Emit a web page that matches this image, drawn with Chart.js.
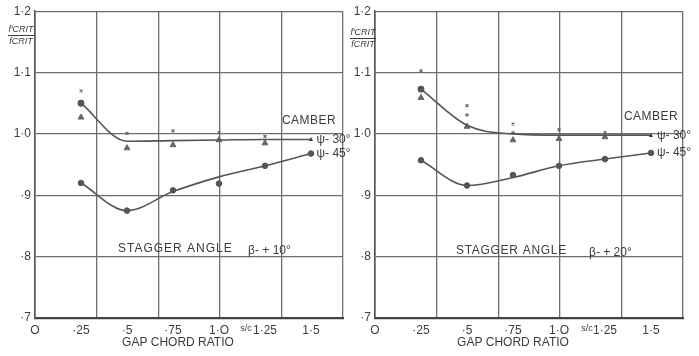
<!DOCTYPE html>
<html><head><meta charset="utf-8">
<script src="https://cdn.jsdelivr.net/npm/chart.js@4"></script>
<style>
html,body{margin:0;padding:0;background:#fff;}
#wrap{position:relative;width:699px;height:356px;overflow:hidden;background:#fff;}
.panel{position:absolute;top:0;height:356px;}
#p1{left:0;width:350px;}
#p2{left:350px;width:349px;}
</style></head><body>
<div id="wrap">
<div class="panel" id="p1"><canvas id="c1" width="350" height="356"></canvas></div>
<div class="panel" id="p2"><canvas id="c2" width="349" height="356"></canvas></div>
</div>
<script>
// ---- data ----
const gapRatio = [0.25, 0.5, 0.75, 1.0, 1.25, 1.5];
const xTickValues = [0, 0.25, 0.5, 0.75, 1.0, 1.25, 1.5];
const xTickLabels = ['O', '·25', '·5', '·75', '1·O', '1·25', '1·5'];
const yTickValues = [0.7, 0.8, 0.9, 1.0, 1.1, 1.2];
const yTickLabels = ['·7', '·8', '·9', '1·0', '1·1', '1·2'];

// Stagger angle beta = +10 deg
const b10Psi30Curve = [1.050, 0.988, 0.989, 0.990, 0.991, 0.991];
const b10Psi30Tri   = [1.027, 0.977, 0.982, 0.990, 0.985, null];
const b10Psi30Mark  = [1.070, 1.001, 1.005, 1.002, 0.996, null];
const b10Psi45Pts   = [0.920, 0.875, 0.908, 0.919, 0.948, 0.968];
const b10Psi45Curve = [0.920, 0.875, 0.906, 0.930, 0.948, 0.968];

// Stagger angle beta = +20 deg
const b20Psi30Curve = [1.073, 1.014, 1.000, 0.998, 0.998, 0.998];
const b20Psi30Tri   = [1.059, 1.012, 0.990, 0.992, 0.995, null];
const b20Psi30Mark  = [1.103, 1.046, 1.016, 1.007, 1.002, null];
const b20Psi30Plus  = [null, 1.031, 1.002, null, null, null];
const b20Psi45Pts   = [0.957, 0.916, 0.933, 0.948, 0.959, 0.969];
const b20Psi45Curve = [0.957, 0.916, 0.929, 0.948, 0.959, 0.969];

const INK = '#3c3c3c';
const LINE = '#555';
const GRID = '#6e6e6e';
const FONT = 'Liberation Sans';

function pts(arr) { return gapRatio.map((x, i) => ({x: x, y: arr[i]})).filter(p => p.y !== null); }

const textPlugin = {
  id: 'texts',
  afterDraw(chart, args, opts) {
    const ctx = chart.ctx, xs = chart.scales.x, ys = chart.scales.y;
    ctx.save();
    ctx.fillStyle = INK;
    ctx.textBaseline = 'middle';
    for (const it of opts.items) {
      const px = xs.getPixelForValue(it.x);
      const py = it.py !== undefined ? it.py : ys.getPixelForValue(it.y);
      ctx.font = (it.style || '') + ' ' + it.size + 'px "' + FONT + '"';
      ctx.letterSpacing = it.ls || '0px';
      ctx.textAlign = it.align || 'left';
      ctx.fillText(it.t, px, py);
    }
    ctx.letterSpacing = '0px';
    // y fraction label
    const f = opts.frac;
    ctx.textAlign = 'center';
    ctx.font = 'italic 9px "' + FONT + '"';
    ctx.fillText('f′CRIT', f.cx, f.cy - 6);
    ctx.fillText('fCRIT', f.cx, f.cy + 6);
    ctx.strokeStyle = INK; ctx.lineWidth = 1;
    ctx.beginPath(); ctx.moveTo(f.cx - 13, f.cy + 0.5); ctx.lineTo(f.cx + 13, f.cy + 0.5); ctx.stroke();
    ctx.restore();
  }
};

function makeChart(id, ds, yAxisWidth, padRight, items, frac) {
  const datasets = [
    {data: pts(ds.c30), showLine: true, pointRadius: [2.6, 0, 0, 0, 0, 0], pointStyle: 'circle', backgroundColor: LINE, borderColor: LINE, borderWidth: 1.6, cubicInterpolationMode: 'monotone', fill: false},
    {data: pts(ds.c45), showLine: true, pointRadius: 0, borderColor: LINE, borderWidth: 1.6, cubicInterpolationMode: 'monotone', fill: false},
    {data: pts(ds.tri), showLine: false, pointStyle: 'triangle', pointRadius: 3.4, backgroundColor: '#666', borderColor: '#666', borderWidth: 1},
    {data: pts(ds.mark), showLine: false, pointStyle: 'crossRot', pointRadius: 2.0, borderColor: '#666', borderWidth: 1.2},
    {data: pts(ds.p45), showLine: false, pointStyle: 'circle', pointRadius: 2.8, backgroundColor: '#555', borderColor: '#555', borderWidth: 1}
  ];
  if (ds.plus) datasets.push({data: pts(ds.plus), showLine: false, pointStyle: 'cross', pointRadius: 2.0, borderColor: '#666', borderWidth: 1.2});
  return new Chart(document.getElementById(id), {
    type: 'scatter',
    data: {datasets: datasets},
    options: {
      responsive: false, animation: false, events: [],
      layout: {padding: {top: 10, right: padRight, left: 0, bottom: 0}},
      plugins: {legend: {display: false}, tooltip: {enabled: false}, texts: {items: items, frac: frac}},
      scales: {
        x: {
          type: 'linear', min: 0, max: 1.674, position: 'bottom',
          afterBuildTicks: (s) => { s.ticks = xTickValues.map(v => ({value: v})); },
          afterFit: (s) => { s.height = 38; },
          ticks: {autoSkip: false, maxRotation: 0, padding: 5, color: INK, font: {family: FONT, size: 12},
                  callback: (v) => { const i = xTickValues.findIndex(t => Math.abs(t - v) < 1e-6); return i >= 0 ? xTickLabels[i] : ''; }},
          grid: {color: 'rgba(0,0,0,0)', drawTicks: false},
          border: {display: true, color: '#444', width: 2.2}
        },
        xg: {
          type: 'linear', min: 0, max: 5, position: 'bottom',
          afterFit: (s) => { s.height = 0; },
          ticks: {display: false, stepSize: 1},
          grid: {color: GRID, lineWidth: 1.3, drawTicks: false},
          border: {display: false}
        },
        y: {
          type: 'linear', min: 0.7, max: 1.2,
          afterBuildTicks: (s) => { s.ticks = yTickValues.map(v => ({value: v})); },
          afterFit: (s) => { s.width = yAxisWidth; },
          ticks: {padding: 4, color: INK, font: {family: FONT, size: 12},
                  callback: (v) => { const i = yTickValues.findIndex(t => Math.abs(t - v) < 1e-6); return i >= 0 ? yTickLabels[i] : ''; }},
          grid: {color: GRID, lineWidth: 1.3, drawTicks: false},
          border: {display: true, color: '#555', width: 1.6}
        }
      }
    },
    plugins: [textPlugin]
  });
}

makeChart('c1',
  {c30: b10Psi30Curve, c45: b10Psi45Curve, tri: b10Psi30Tri, mark: b10Psi30Mark, p45: b10Psi45Pts},
  35, 7,
  [
    {t: 'CAMBER', x: 1.342, y: 1.021, size: 12, ls: '0.5px'},
    {t: '▲', x: 1.50, y: 0.991, size: 7, align: 'center'},
    {t: 'ψ- 30°', x: 1.53, y: 0.991, size: 12},
    {t: 'ψ- 45°', x: 1.53, y: 0.968, size: 12},
    {t: 'STAGGER ANGLE', x: 0.451, y: 0.8136, size: 12, ls: '1px'},
    {t: 'β- + 10°', x: 1.158, y: 0.810, size: 12},
    {t: 'GAP CHORD RATIO', x: 0.777, py: 343, size: 12, align: 'center'},
    {t: 's/c', x: 1.147, py: 329, size: 9, align: 'center'}
  ],
  {cx: 21, cy: 35});

makeChart('c2',
  {c30: b20Psi30Curve, c45: b20Psi45Curve, tri: b20Psi30Tri, mark: b20Psi30Mark, p45: b20Psi45Pts, plus: b20Psi30Plus},
  25, 16,
  [
    {t: 'CAMBER', x: 1.353, y: 1.028, size: 12, ls: '0.5px'},
    {t: '▲', x: 1.50, y: 0.998, size: 7, align: 'center'},
    {t: 'ψ- 30°', x: 1.533, y: 0.997, size: 12},
    {t: 'ψ- 45°', x: 1.533, y: 0.9695, size: 12},
    {t: 'STAGGER ANGLE', x: 0.44, y: 0.809, size: 12, ls: '0.7px'},
    {t: 'β- + 20°', x: 1.163, y: 0.807, size: 12},
    {t: 'GAP CHORD RATIO', x: 0.75, py: 343, size: 12, align: 'center'},
    {t: 's/c', x: 1.152, py: 329, size: 9, align: 'center'}
  ],
  {cx: 13, cy: 38});
</script>
</body></html>
